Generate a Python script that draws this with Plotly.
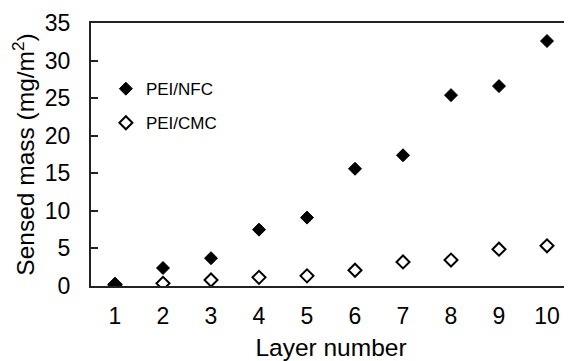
import plotly.graph_objects as go

layers = [1, 2, 3, 4, 5, 6, 7, 8, 9, 10]
pei_nfc = [0.3, 2.4, 3.7, 7.5, 9.1, 15.6, 17.4, 25.4, 26.6, 32.6]
pei_cmc = [0.15, 0.35, 0.8, 1.15, 1.35, 2.1, 3.2, 3.45, 4.9, 5.35]

FONT = "Liberation Sans, Arial, sans-serif"

fig = go.Figure()
fig.add_trace(go.Scatter(
    x=layers, y=pei_cmc, mode="markers", name="PEI/CMC", legendgroup="b", legendrank=2,
    marker=dict(symbol="diamond-open", size=10, color="black", line=dict(width=2, color="black")),
))
fig.add_trace(go.Scatter(
    x=layers, y=pei_nfc, mode="markers", name="PEI/NFC", legendgroup="a", legendrank=1,
    marker=dict(symbol="diamond", size=10, color="black", line=dict(width=1, color="black")),
))

# The page body has an 8px default margin, so the figure is sized to fill the rest.
fig.update_layout(
    width=564, height=353,
    margin=dict(l=83, r=1, t=15, b=75),
    paper_bgcolor="white", plot_bgcolor="white",
    font=dict(family=FONT, color="black"),
    showlegend=True,
    legend=dict(
        x=0.031, y=0.817, xanchor="left", yanchor="top",
        bgcolor="rgba(0,0,0,0)", font=dict(size=17, family=FONT),
        traceorder="grouped", tracegroupgap=9, itemwidth=30,
    ),
    xaxis=dict(
        range=[0.5, 10.5], tickvals=layers, ticks="", showgrid=False, zeroline=False,
        showline=True, linecolor="#222222", linewidth=2, mirror=True, automargin=False,
        tickfont=dict(size=23), ticklabelstandoff=8,
        title=dict(text="Layer number", font=dict(size=24.5), standoff=13),
    ),
    yaxis=dict(
        range=[0, 35], dtick=5, ticks="inside", ticklen=7, tickwidth=1.5, tickcolor="#222222",
        showgrid=False, zeroline=False, automargin=False,
        showline=True, linecolor="#222222", linewidth=2, mirror=True,
        tickfont=dict(size=23), ticklabelstandoff=14,
        title=dict(text="Sensed mass (mg/m<sup>2</sup>)", font=dict(size=24.5), standoff=6),
    ),
)

fig.write_html("out.html")
